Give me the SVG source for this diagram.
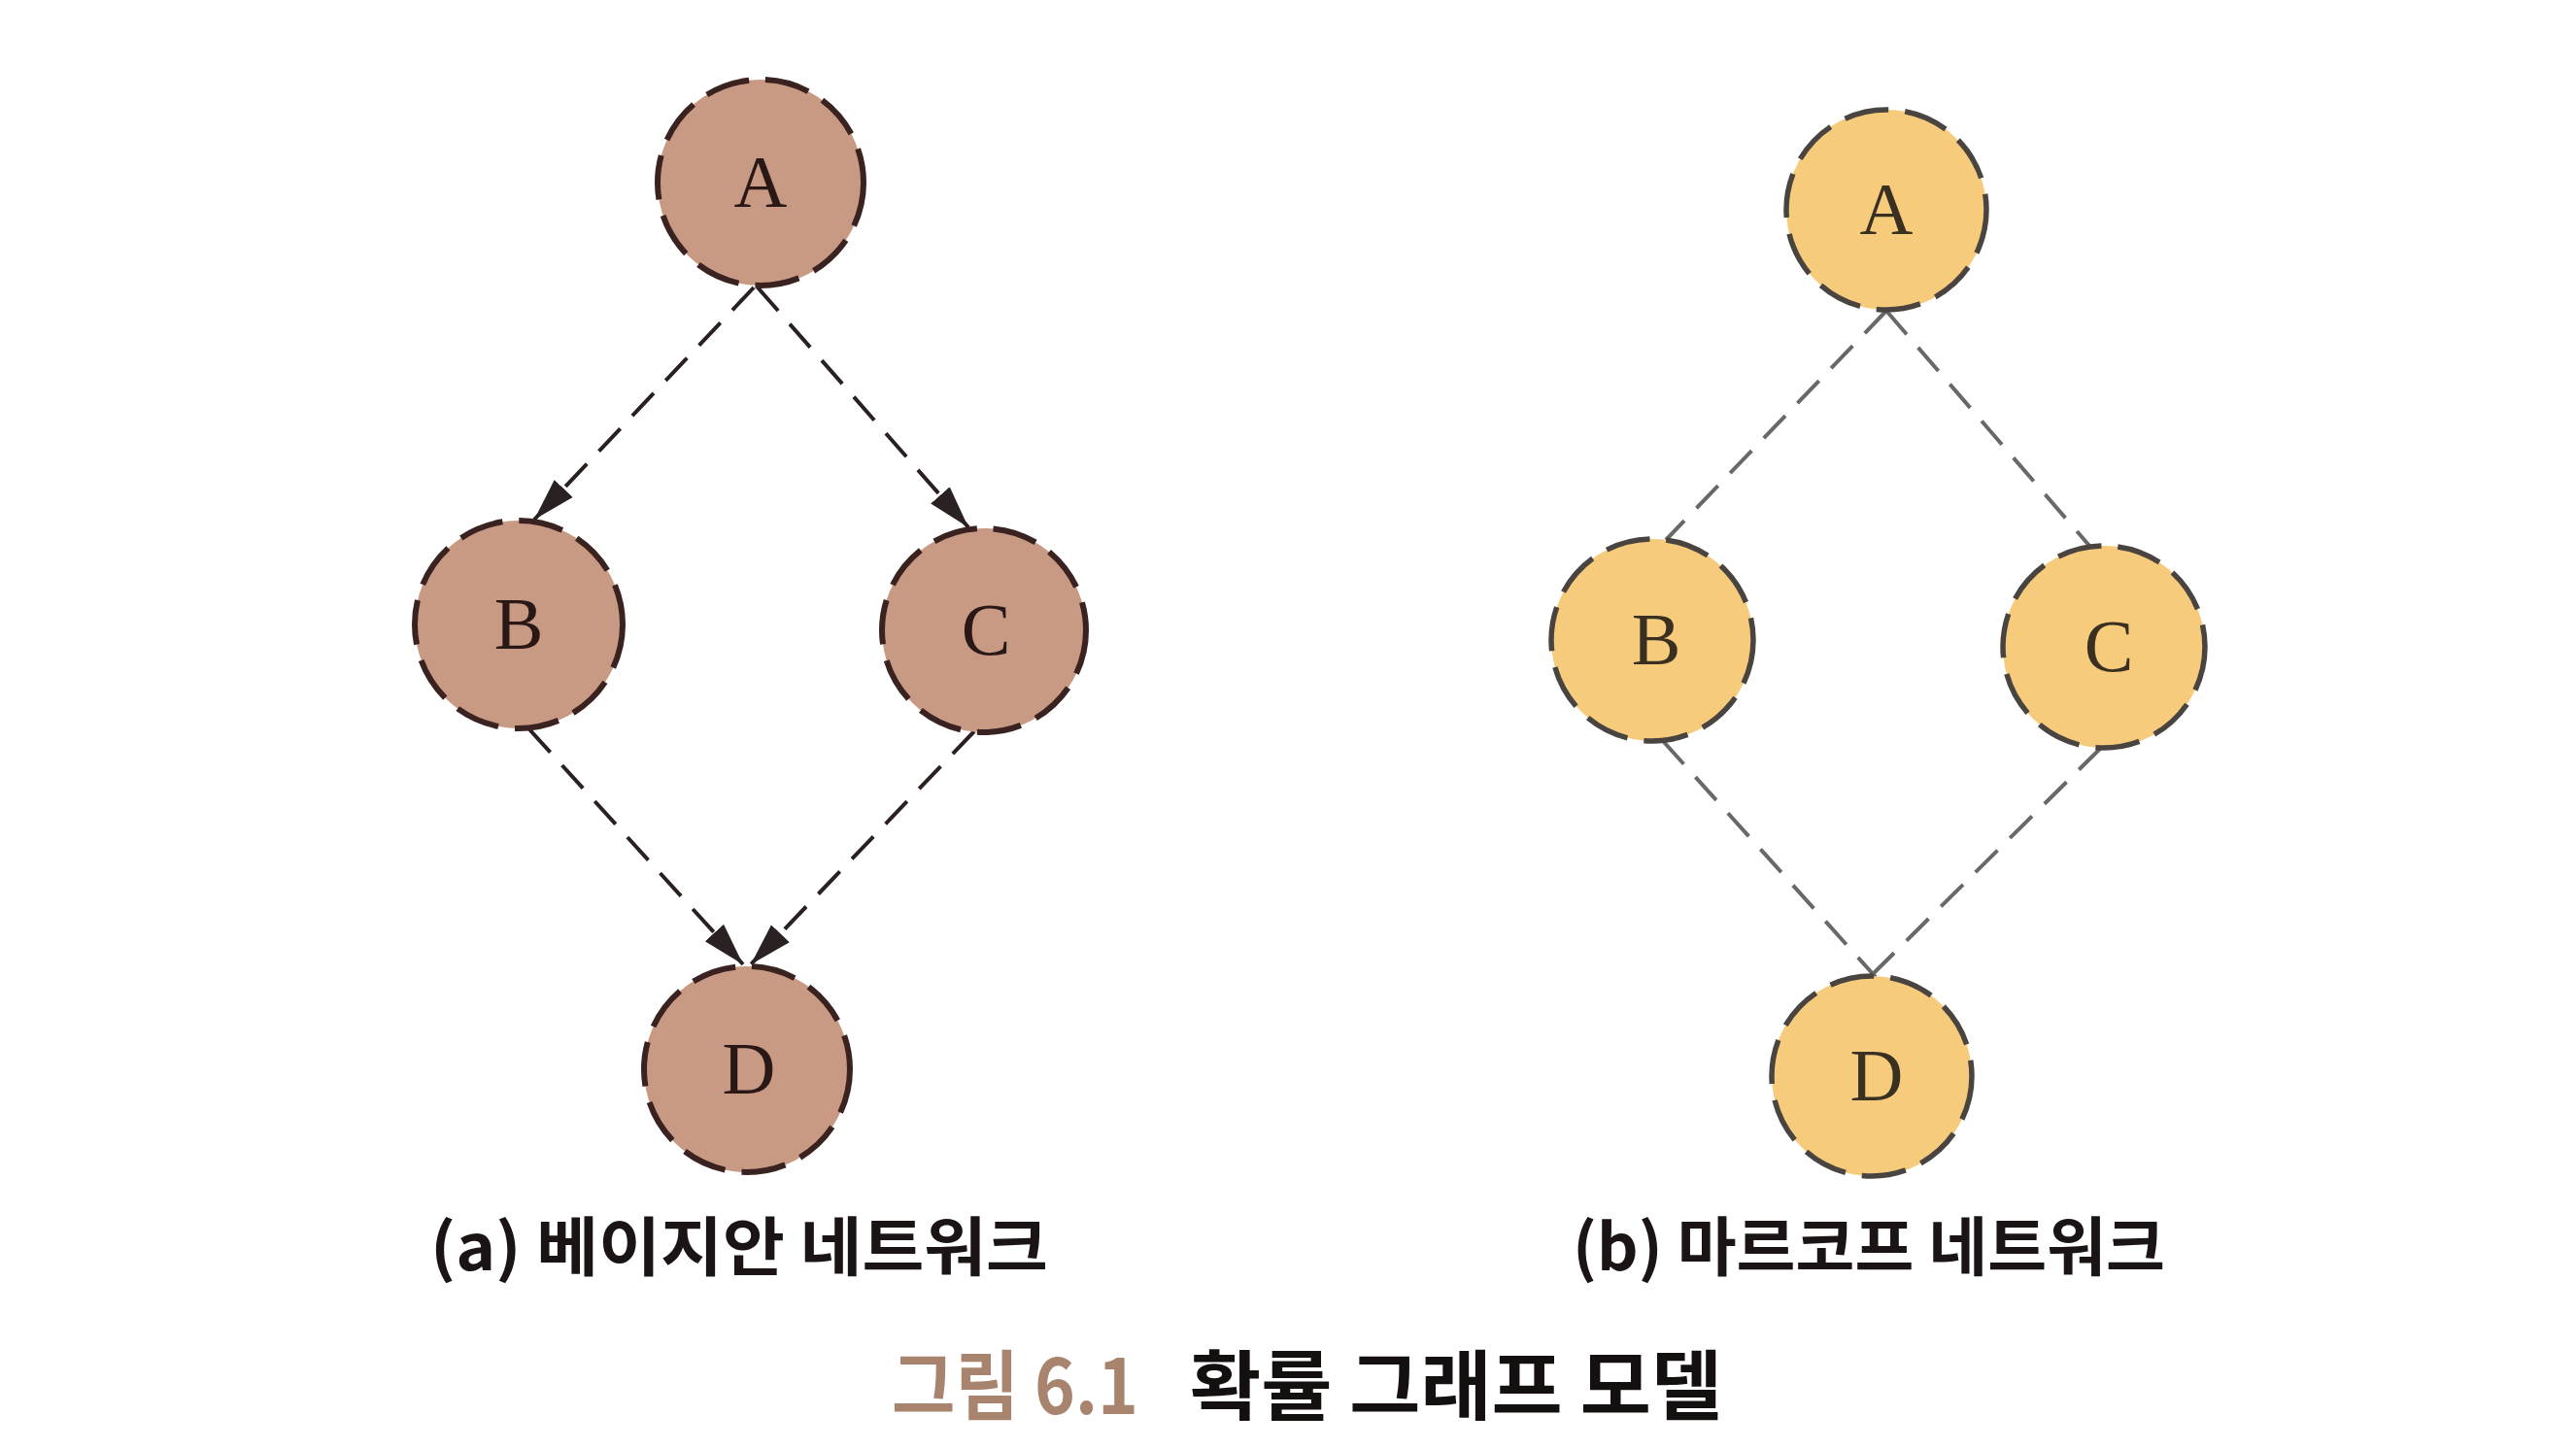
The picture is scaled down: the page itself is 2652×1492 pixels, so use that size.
<svg xmlns="http://www.w3.org/2000/svg" width="2652" height="1492" viewBox="0 0 2652 1492">
<defs>
<style>
.na{fill:#c99a83;stroke:#3a2220;stroke-width:6;stroke-dasharray:46 17}
.nb{fill:#f6cc7c;stroke:#4a4440;stroke-width:5.5;stroke-dasharray:46 17}
.lbl{font-family:"Liberation Serif","Times New Roman",serif;font-size:76px;text-anchor:middle}
.la{fill:#2a1816}
.lb{fill:#3a3022}
.ea{stroke:#2a2020;stroke-width:4;stroke-dasharray:32 18;fill:none}
.eb{stroke:#6a6866;stroke-width:4;stroke-dasharray:32 18;fill:none}
.sub{font-family:"Noto Sans CJK KR","Noto Sans",sans-serif;font-weight:bold;font-size:66px;fill:#1a1414}
.cap{font-family:"Noto Sans CJK KR","Noto Sans",sans-serif;font-weight:bold;font-size:78px}
</style>
<marker id="arr" markerUnits="userSpaceOnUse" markerWidth="46" markerHeight="28" refX="44" refY="14" orient="auto" viewBox="0 0 46 28">
<path d="M0,1 L44,14 L0,27 z" fill="#2a2222"/>
</marker>
</defs>
<rect width="2652" height="1492" fill="#ffffff"/>
<g id="connectors">
<line class="ea" x1="776" y1="296" x2="550" y2="535" marker-end="url(#arr)"/>
<line class="ea" x1="780" y1="296" x2="997" y2="543" marker-end="url(#arr)"/>
<line class="ea" x1="545" y1="751" x2="765" y2="993" marker-end="url(#arr)"/>
<line class="ea" x1="1003" y1="753" x2="773" y2="993" marker-end="url(#arr)"/>
<line class="eb" x1="1942" y1="320" x2="1715" y2="556"/>
<line class="eb" x1="1942" y1="320" x2="2152" y2="563"/>
<line class="eb" x1="1712" y1="763" x2="1931" y2="1006"/>
<line class="eb" x1="2163" y1="770" x2="1925" y2="1006"/>
</g>
<g id="a-A"><circle class="na" cx="783" cy="188" r="106"/><text class="lbl la" x="783" y="213">A</text></g>
<g id="a-B"><circle class="na" cx="534" cy="643" r="107"/><text class="lbl la" x="534" y="668">B</text></g>
<g id="a-C"><circle class="na" cx="1013" cy="649" r="105"/><text class="lbl la" x="1015" y="674">C</text></g>
<g id="a-D"><circle class="na" cx="769" cy="1101" r="106"/><text class="lbl la" x="771" y="1126">D</text></g>
<g id="b-A"><circle class="nb" cx="1942" cy="216" r="103"/><text class="lbl lb" x="1942" y="241">A</text></g>
<g id="b-B"><circle class="nb" cx="1701" cy="659" r="104"/><text class="lbl lb" x="1705" y="684">B</text></g>
<g id="b-C"><circle class="nb" cx="2166" cy="666" r="104"/><text class="lbl lb" x="2171" y="691">C</text></g>
<g id="b-D"><circle class="nb" cx="1927" cy="1108" r="103"/><text class="lbl lb" x="1932" y="1133">D</text></g>
<g id="labels">
<text class="sub" x="443" y="1308" textLength="636" lengthAdjust="spacingAndGlyphs">(a) 베이지안 네트워크</text>
<text class="sub" x="1619" y="1308" textLength="610" lengthAdjust="spacingAndGlyphs">(b) 마르코프 네트워크</text>
<text class="cap" x="918" y="1456" fill="#a8846f" textLength="254" lengthAdjust="spacingAndGlyphs">그림 6.1</text>
<text class="cap" x="1225" y="1456" fill="#141010" textLength="548" lengthAdjust="spacingAndGlyphs">확률 그래프 모델</text>
</g>
</svg>
